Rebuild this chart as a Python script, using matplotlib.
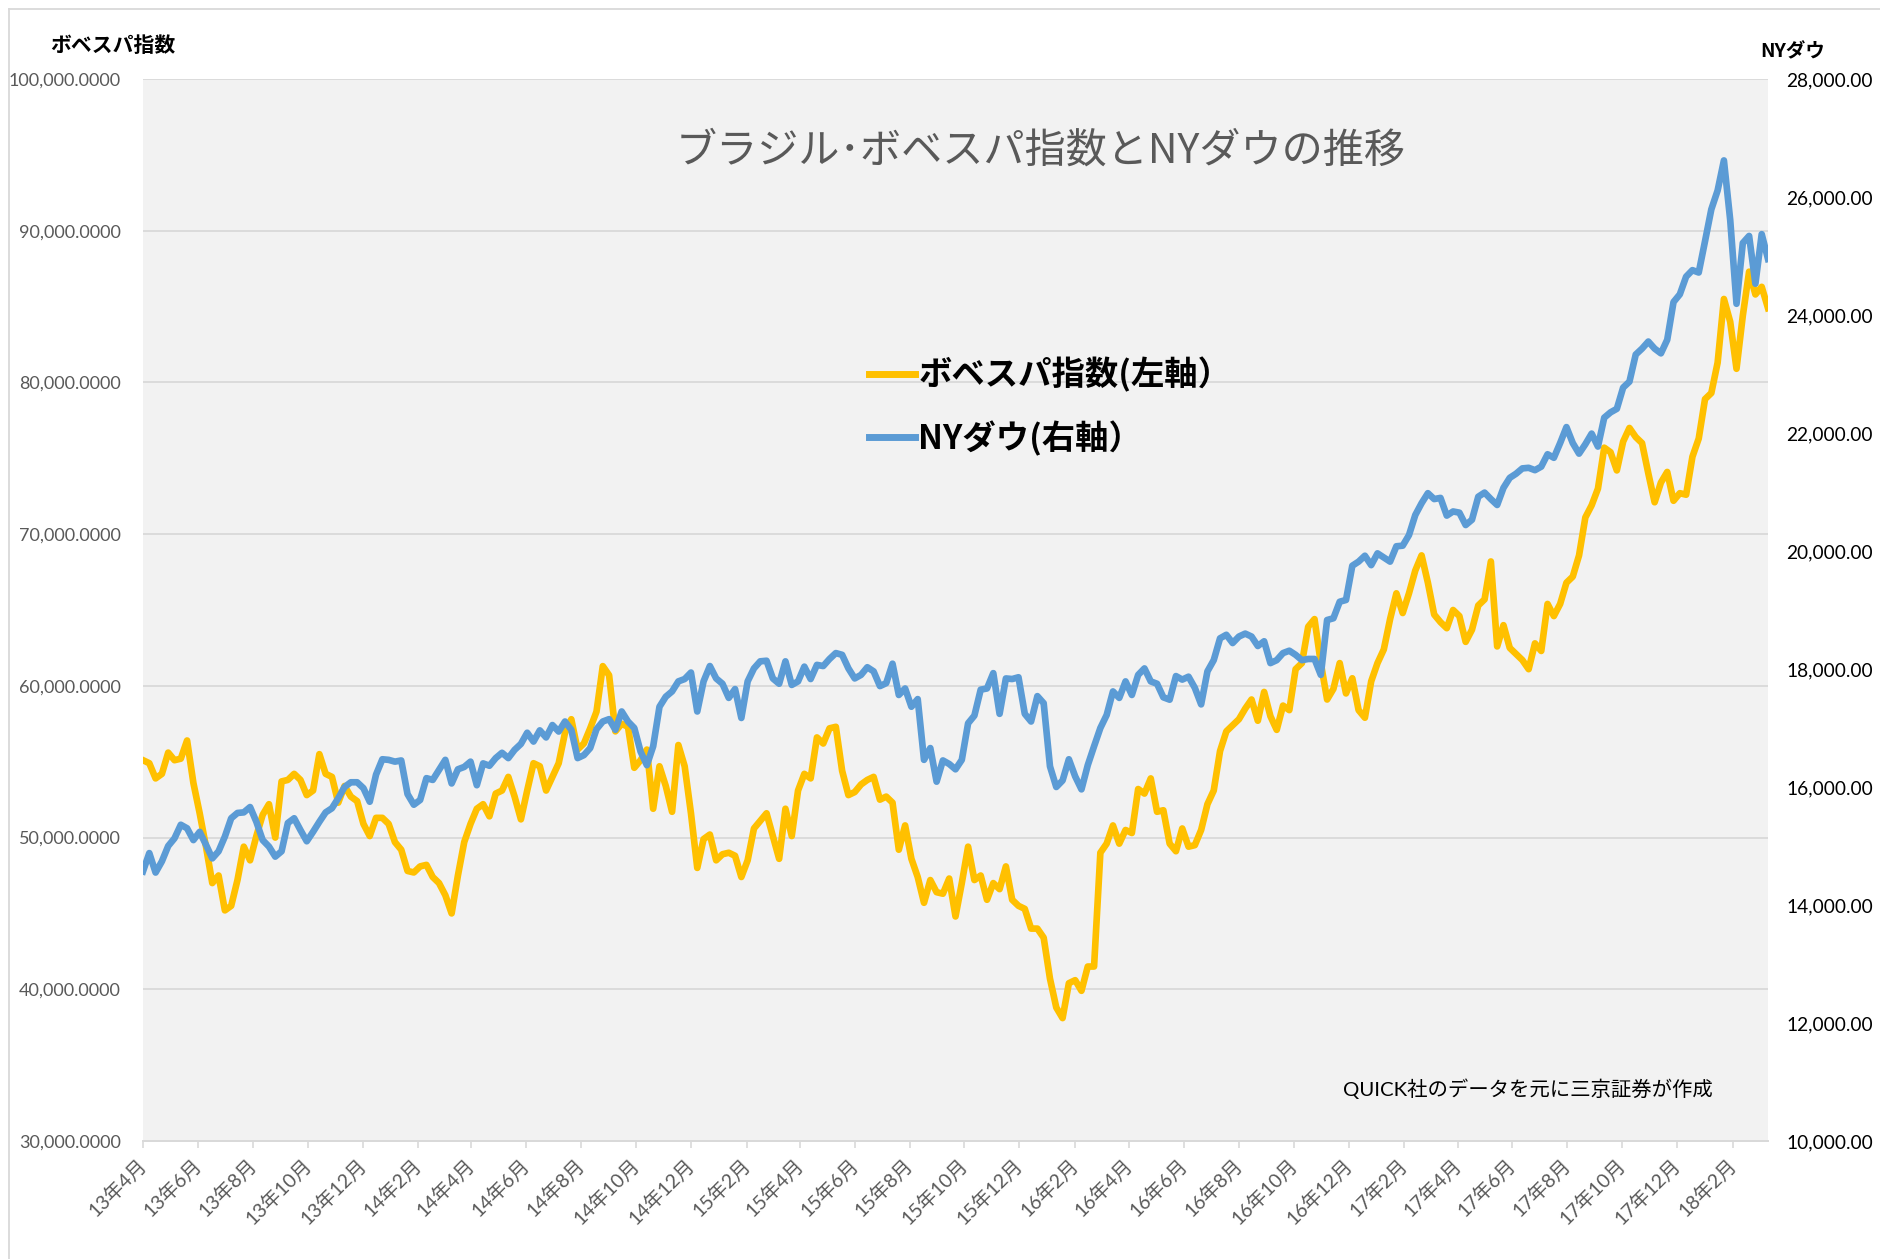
import matplotlib
matplotlib.use("Agg")
import matplotlib.pyplot as plt
import pandas as pd
from matplotlib.lines import Line2D
from matplotlib.ticker import FuncFormatter, MultipleLocator

plt.rcParams["font.family"] = ["Noto Sans CJK JP", "DejaVu Sans"]

# weekly closes, first week of Apr 2013 to mid-Mar 2018
START = "2013-04-01"
BOVESPA = [
    55100, 54900, 53900, 54200, 55600, 55100, 55200, 56400, 53600, 51600,
    49400, 47000, 47500, 45200, 45500, 47200, 49400, 48500, 50100, 51500,
    52200, 50000, 53700, 53800, 54200, 53800, 52800, 53100, 55500, 54200,
    54000, 52300, 53400, 52700, 52400, 50900, 50100, 51300, 51300, 50900,
    49700, 49200, 47800, 47700, 48100, 48200, 47400, 47000, 46200, 45000,
    47500, 49700, 50900, 51900, 52200, 51400, 52900, 53100, 54000, 52700,
    51200, 53100, 54900, 54700, 53100, 54000, 54900, 56900, 57800, 55800,
    56200, 57200, 58300, 61300, 60700, 57000, 57500, 57300, 54600, 55100,
    55800, 51900, 54700, 53400, 51700, 56100, 54700, 51600, 48000, 49900,
    50200, 48500, 48900, 49000, 48800, 47400, 48500, 50600, 51100, 51600,
    50100, 48600, 51900, 50100, 53100, 54200, 53900, 56600, 56200, 57200,
    57300, 54400, 52800, 53000, 53500, 53800, 54000, 52500, 52700, 52300,
    49200, 50800, 48600, 47400, 45700, 47200, 46400, 46300, 47300, 44800,
    47000, 49400, 47200, 47500, 45900, 47000, 46600, 48100, 45900, 45500,
    45300, 44000, 44000, 43400, 40700, 38800, 38100, 40400, 40600, 39900,
    41500, 41500, 49000, 49600, 50800, 49600, 50500, 50300, 53200, 52900,
    53900, 51700, 51800, 49600, 49100, 50600, 49400, 49500, 50500, 52200,
    53100, 55700, 57000, 57400, 57800, 58500, 59100, 57700, 59600, 58000,
    57100, 58700, 58400, 61100, 61500, 63900, 64400, 61500, 59100, 59800,
    61500, 59500, 60500, 58400, 57900, 60300, 61500, 62400, 64400, 66100,
    64800, 66100, 67600, 68600, 66800, 64700, 64200, 63800, 65000, 64600,
    62900, 63700, 65300, 65700, 68200, 62600, 64000, 62500, 62100, 61700,
    61100, 62800, 62300, 65400, 64600, 65400, 66800, 67200, 68600, 71100,
    71900, 73000, 75700, 75400, 74200, 76100, 77000, 76400, 76000, 74000,
    72100, 73400, 74100, 72200, 72700, 72600, 75100, 76300, 78900, 79300,
    81300, 85500, 84000, 80900, 84400, 87300, 85800, 86300, 84900,
]
NY_DOW = [
    14570, 14880, 14550, 14740, 15000, 15130, 15360, 15300, 15100, 15240,
    15020, 14790, 14910, 15160, 15470, 15560, 15570, 15660, 15410, 15100,
    14990, 14820, 14910, 15390, 15470, 15270, 15080, 15240, 15410, 15570,
    15640, 15810, 16000, 16080, 16080, 15980, 15750, 16210, 16470, 16460,
    16430, 16450, 15880, 15700, 15780, 16150, 16120, 16290, 16460, 16060,
    16300, 16340, 16430, 16030, 16400, 16360, 16490, 16580, 16490, 16630,
    16730, 16920, 16770, 16960, 16840, 17050, 16940, 17110, 16970, 16490,
    16540, 16660, 16980, 17110, 17150, 16970, 17280, 17110, 17000, 16600,
    16370, 16690, 17360, 17530, 17620, 17790, 17830, 17940, 17280, 17790,
    18050, 17840, 17750, 17510, 17660, 17170, 17790, 18010, 18130, 18140,
    17840, 17750, 18130, 17730, 17790, 18040, 17830, 18070, 18050, 18170,
    18270, 18240, 18010, 17840, 17900, 18030, 17960, 17710, 17760, 18090,
    17560, 17670, 17360, 17490, 16460, 16660, 16090, 16450, 16390, 16300,
    16460, 17080, 17210, 17650, 17670, 17930, 17240, 17840, 17830, 17860,
    17240, 17110, 17540, 17420, 16350, 16000, 16110, 16470, 16180, 15960,
    16370, 16690, 17000, 17220, 17620, 17510, 17790, 17560, 17900, 18010,
    17790, 17750, 17520, 17480, 17880, 17820, 17870, 17680, 17400, 17960,
    18150, 18520, 18580, 18440, 18550, 18600, 18550, 18390, 18470, 18100,
    18150, 18270, 18310, 18240, 18150, 18170, 18170, 17900, 18830, 18860,
    19140, 19170, 19750, 19820, 19920, 19760, 19960, 19890, 19820, 20080,
    20090, 20270, 20610, 20810, 20980, 20880, 20900, 20600, 20670, 20650,
    20440, 20530, 20920, 20990, 20880, 20780, 21070, 21240, 21310, 21400,
    21410, 21370, 21430, 21640, 21580, 21830, 22100, 21830, 21650, 21810,
    21990, 21770, 22260, 22350, 22410, 22770, 22870, 23330, 23430, 23550,
    23430, 23350, 23580, 24220, 24350, 24650, 24760, 24720, 25250, 25790,
    26110, 26620, 25610, 24190, 25220, 25340, 24530, 25370, 24950,
]

TITLE = "ブラジル･ボベスパ指数とNYダウの推移"
LABEL_BOVESPA = "ボベスパ指数(左軸）"
LABEL_DOW = "NYダウ(右軸）"
SOURCE = "QUICK社のデータを元に三京証券が作成"

YELLOW = "#ffc000"
BLUE = "#5b9bd5"
GRID = "#d9d9d9"
TEXT_GRAY = "#595959"
LATIN = ["Lato", "Noto Sans CJK JP"]

W, H = 1880, 1259
dates = pd.date_range(START, periods=len(BOVESPA), freq="7D")

fig = plt.figure(figsize=(W / 100, H / 100), dpi=100)
left, right, top, bottom = 143, 1768, 79, 1141
ax = fig.add_axes([left / W, 1 - bottom / H, (right - left) / W, (bottom - top) / H])
ax.set_facecolor("#f2f2f2")
ax2 = ax.twinx()

ax.plot(dates, BOVESPA, color=YELLOW, lw=4.8, solid_joinstyle="round", label=LABEL_BOVESPA)
ax2.plot(dates, NY_DOW, color=BLUE, lw=4.8, solid_joinstyle="round", label=LABEL_DOW)

ax.set_xlim(dates[0], dates[-1])
ax.set_ylim(30000, 100000)
ax2.set_ylim(10000, 28000)
ax.yaxis.set_major_locator(MultipleLocator(10000))
ax2.yaxis.set_major_locator(MultipleLocator(2000))
ax.yaxis.set_major_formatter(FuncFormatter(lambda v, _: f"{v:,.4f}"))
ax2.yaxis.set_major_formatter(FuncFormatter(lambda v, _: f"{v:,.2f}"))
ax.grid(axis="y", color=GRID, lw=1.3)
ax.set_axisbelow(True)

ticks = [dates[0] + pd.DateOffset(months=2 * i) for i in range(30)]
ax.set_xticks(ticks)
ax.set_xticklabels([f"{d.year % 100}年{d.month}月" for d in ticks], rotation=45,
                   ha="right", va="center", rotation_mode="anchor",
                   color=TEXT_GRAY, fontsize=14, family=LATIN)
ax.tick_params(axis="x", length=5, width=1.2, color=GRID, pad=10)
ax.tick_params(axis="y", length=0, pad=16, labelsize=13, labelcolor=TEXT_GRAY)
ax2.tick_params(axis="y", length=0, pad=13, labelsize=13.8, labelcolor="black")
for lab in ax.get_yticklabels() + ax2.get_yticklabels():
    lab.set_family(LATIN)

for a in (ax, ax2):
    for name, sp in a.spines.items():
        sp.set_visible(name == "bottom")
        sp.set_color(GRID)
        sp.set_linewidth(1.3)

fig.text(50 / W, 1 - 46 / H, "ボベスパ指数", fontsize=15, fontweight="bold",
         ha="left", va="center")
fig.text(1760 / W, 1 - 52 / H, "NYダウ", fontsize=14, fontweight="bold",
         ha="left", va="center")
fig.text(1041 / W, 1 - 151 / H, TITLE, fontsize=29.6, color=TEXT_GRAY,
         ha="center", va="center")
fig.text(1343 / W, 1 - 1089 / H, SOURCE, fontsize=14.7, ha="left", va="center",
         family=LATIN)

handles = [Line2D([], [], color=YELLOW, lw=5), Line2D([], [], color=BLUE, lw=5)]
fig.legend(handles, [LABEL_BOVESPA, LABEL_DOW], loc="upper left",
           bbox_to_anchor=(869 / W, 1 - 357 / H), frameon=False, borderpad=0,
           borderaxespad=0, handlelength=1.38, handletextpad=0.1,
           labelspacing=0.85, prop={"size": 24, "weight": "bold"})

# light chart-area border (left and top edges visible)
fig.add_artist(Line2D([8.5 / W, 8.5 / W], [0, 1 - 9 / H], color=GRID, lw=1.3))
fig.add_artist(Line2D([8.5 / W, 1], [1 - 9 / H, 1 - 9 / H], color=GRID, lw=1.3))

fig.savefig("out.png", dpi=100, facecolor="white")
